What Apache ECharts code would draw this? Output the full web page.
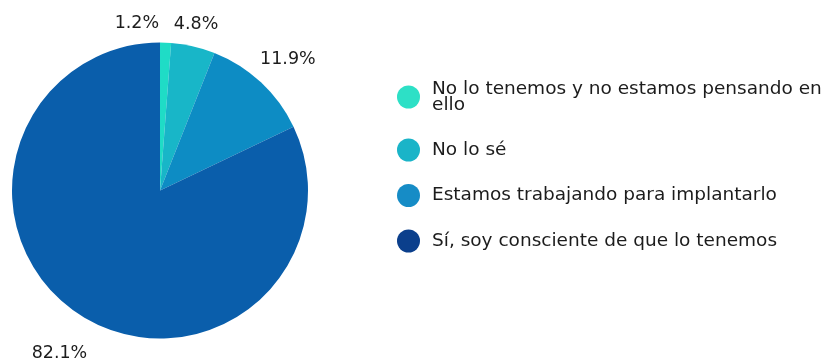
<!DOCTYPE html>
<html><head><meta charset="utf-8">
<script src="https://cdn.jsdelivr.net/npm/echarts@6/dist/echarts.min.js"></script>
<style>html,body{margin:0;padding:0;background:#fff}#c{width:829px;height:361px}</style>
</head><body><div id="c"></div>
<script>
var categories = ["No lo tenemos y no estamos pensando en\nello", "No lo sé", "Estamos trabajando para implantarlo", "Sí, soy consciente de que lo tenemos"];
var values = [1.2, 4.8, 11.9, 82.1];
var sliceColors = ["#1fdcc6", "#18b6c8", "#0d8cc4", "#0a5eab"];
var legendColors = ["#2de0c6", "#1ab4c8", "#168cc6", "#0b3f8c"];
var labelNudges = [[-30, 16], [-5, 12], [3, 3], [-3, 8]];
var font = "DejaVu Sans";
var chart = echarts.init(document.getElementById('c'));
chart.setOption({
  animation: false,
  legend: {
    orient: 'vertical', left: 392, top: 73, itemWidth: 23, itemHeight: 23, itemGap: 22.5, icon: 'circle',
    textStyle: {fontFamily: font, fontSize: 18.5, color: '#1c1c1c', lineHeight: 16, padding: [0,0,0,7]},
    data: categories.map(function(n,i){
      var d = {name:n, itemStyle:{color:legendColors[i]}};
      if (i === 0) d.textStyle = {fontFamily: font, fontSize: 18.5, color: '#1c1c1c', lineHeight: 16, padding: [6,0,0,7]};
      return d;
    })
  },
  series: [{
    type: 'pie', center: [160, 190.5], radius: 148, startAngle: 90, clockwise: true,
    label: {show: false}, labelLine: {show: false},
    data: categories.map(function(n,i){return {name:n, value:values[i], itemStyle:{color:sliceColors[i]}};})
  }, {
    type: 'pie', center: [160, 190.5], radius: [162, 198], startAngle: 90, clockwise: true,
    silent: true, avoidLabelOverlap: false,
    itemStyle: {color: 'rgba(0,0,0,0)'},
    label: {show: true, position: 'inside', fontFamily: font, fontSize: 17.5, color: '#1c1c1c',
      formatter: function(p){return p.value.toFixed(1)+'%';}},
    labelLine: {show: false},
    labelLayout: function(p){ var n = labelNudges[p.dataIndex]; return {dx: n[0], dy: n[1]}; },
    data: categories.map(function(n,i){return {name:n, value:values[i]};})
  }]
});
</script></body></html>
